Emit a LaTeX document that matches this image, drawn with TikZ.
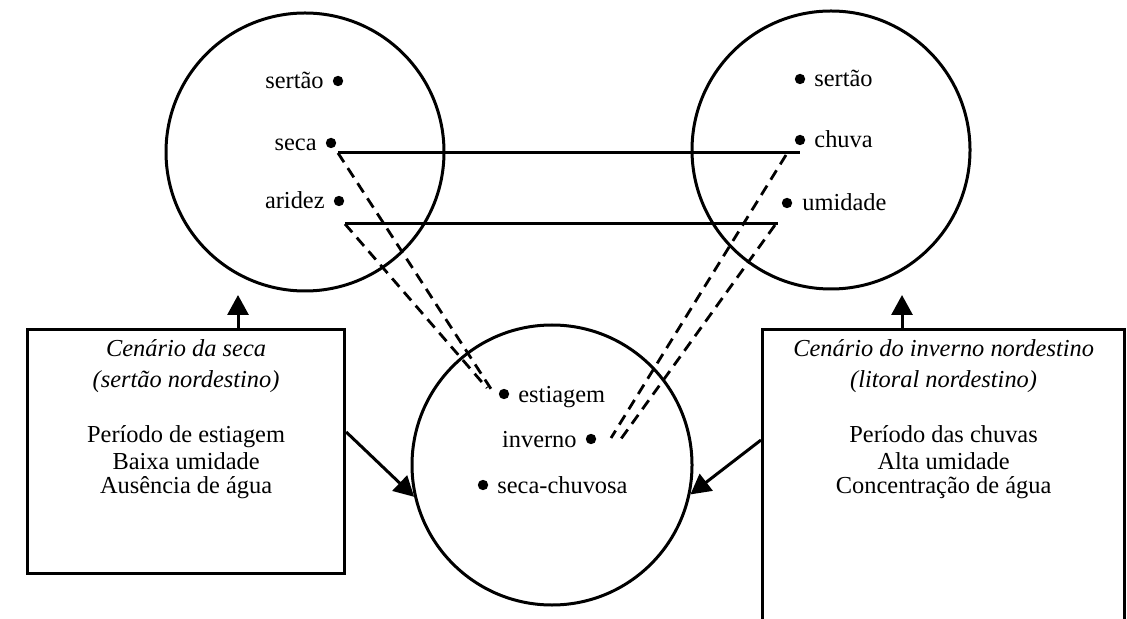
\documentclass[tikz,border=0pt]{standalone}
\usepackage{fontspec}
\setmainfont{Liberation Serif}
\usetikzlibrary{arrows.meta}

\begin{document}
\begin{tikzpicture}[x=0.5pt, y=-0.5pt,
  ring/.style={draw, circle, line width=1.5pt, minimum size=139pt, inner sep=0pt},
  spot/.style={circle, fill, inner sep=0pt, minimum size=5.2pt},
  txt/.style={font=\fontsize{12.2}{14}\selectfont, inner sep=0pt},
  wl/.style={txt, anchor=base east},
  wr/.style={txt, anchor=base west},
  boxline/.style={txt, anchor=base},
  scenebox/.style={draw, line width=1.6pt, anchor=north west, inner sep=0pt},
  link/.style={line width=1.5pt},
  dlink/.style={line width=1.4pt, dash pattern=on 5.5pt off 3.5pt},
  arr/.style={line width=1.5pt, -{Triangle[length=10pt,width=10.5pt]}},
]
\useasboundingbox (0,0) rectangle (1127,619);
\clip (0,0) rectangle (1127,619);

% the three semantic fields
\node[ring] (L) at (305,152) {};
\node[ring] (R) at (831,150) {};
\node[ring, minimum size=140pt] (B) at (552,465) {};

% terms of the drought field
\node[spot] (Ls) at (338,81) {};
\node[wl] (Lst) at ([shift={(-14,8)}]Ls.center) {sertão};
\node[spot] (Lc) at (331,143) {};
\node[wl] (Lct) at ([shift={(-14,8)}]Lc.center) {seca};
\node[spot] (La) at (339,201) {};
\node[wl] (Lat) at ([shift={(-14,8)}]La.center) {aridez};

% terms of the rainy-season field
\node[spot] (Rs) at (800,79) {};
\node[wr] (Rst) at ([shift={(14,8)}]Rs.center) {sertão};
\node[spot] (Rc) at (800,140) {};
\node[wr] (Rct) at ([shift={(14,8)}]Rc.center) {chuva};
\node[spot] (Ru) at (787,203) {};
\node[wr] (Rut) at ([shift={(15,8)}]Ru.center) {umidade};

% terms of the shared field
\node[spot] (Be) at (504,394) {};
\node[wr] (Bet) at ([shift={(14,8)}]Be.center) {estiagem};
\node[spot] (Bi) at (591,439) {};
\node[wl] (Bit) at ([shift={(-14,8)}]Bi.center) {inverno};
\node[spot] (Bs) at (483,485) {};
\node[wr] (Bst) at ([shift={(14,8)}]Bs.center) {seca-chuvosa};

% oppositions between the two upper fields
\draw[link] ([shift={(7,10)}]Lc.center) -- ([shift={(0,13)}]Rc.center);
\draw[link] ([shift={(6,23)}]La.center) -- ([shift={(-9,21)}]Ru.center);

% links down to the shared field
\draw[dlink] ([shift={(7,10)}]Lc.center) -- ([shift={(-11,-2)}]Be.center);
\draw[dlink] ([shift={(6,23)}]La.center) -- ([shift={(-17,-6)}]Be.center);
\draw[dlink] ([shift={(-14,15)}]Rc.center) -- ([shift={(20,-1)}]Bi.center);
\draw[dlink] ([shift={(-12,22)}]Ru.center) -- ([shift={(27,4)}]Bi.center);

% scenario boxes
\node[scenebox, minimum width=158.5pt, minimum height=122pt] (SB) at (26,328) {};
\node[scenebox, minimum width=181pt, minimum height=200pt] (WB) at (761,328) {};

\node[boxline] (SB1) at ([shift={(0,29)}]SB.north) {\itshape Cenário da seca};
\node[boxline] (SB2) at ([shift={(0,59)}]SB.north) {\itshape (sertão nordestino)};
\node[boxline] (SB3) at ([shift={(0,114)}]SB.north) {Período de estiagem};
\node[boxline] (SB4) at ([shift={(0,141)}]SB.north) {Baixa umidade};
\node[boxline] (SB5) at ([shift={(0,165)}]SB.north) {Ausência de água};

\node[boxline] (WB1) at ([shift={(0,29)}]WB.north) {\itshape Cenário do inverno nordestino};
\node[boxline] (WB2) at ([shift={(0,59)}]WB.north) {\itshape (litoral nordestino)};
\node[boxline] (WB3) at ([shift={(0,114)}]WB.north) {Período das chuvas};
\node[boxline] (WB4) at ([shift={(0,141)}]WB.north) {Alta umidade};
\node[boxline] (WB5) at ([shift={(0,165)}]WB.north) {Concentração de água};

% arrows from the scenarios
\coordinate (SBup) at (238,295);
\coordinate (WBup) at (902,295);
\draw[arr] (SB.north -| SBup) -- (SBup);
\draw[arr] (WB.north -| WBup) -- (WBup);
\draw[arr] ([shift={(0,104)}]SB.north east) -- (B.193);
\draw[arr] ([shift={(0,112)}]WB.north west) -- (B.-12);
\end{tikzpicture}
\end{document}
